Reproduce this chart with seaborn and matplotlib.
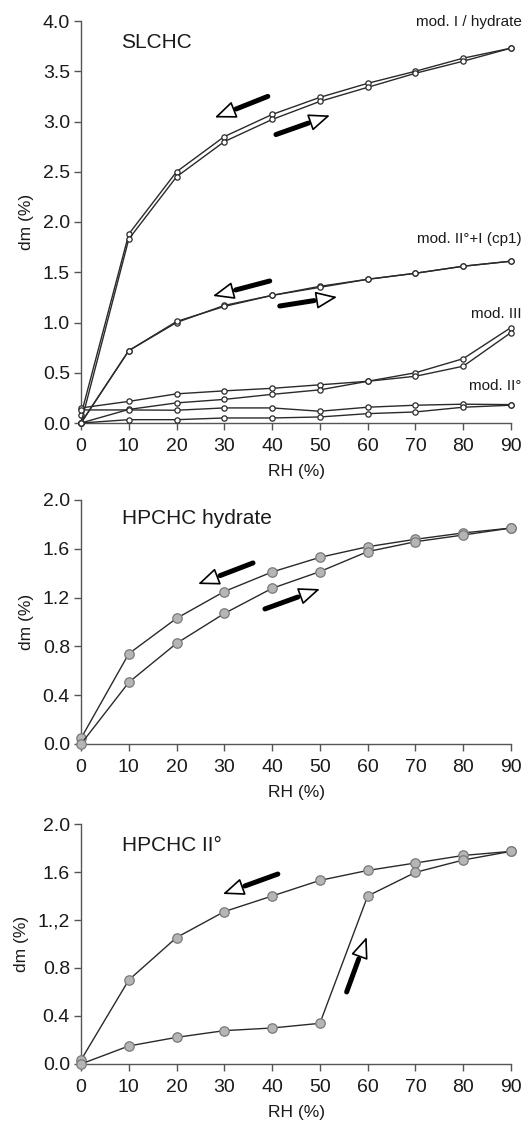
import matplotlib
matplotlib.use("Agg")
import matplotlib.pyplot as plt
import seaborn as sns
import numpy as np

sns.set_theme(style="ticks")
plt.rcParams['font.family'] = ['Liberation Sans', 'DejaVu Sans']

# ---------------- data ----------------
rh = [0, 10, 20, 30, 40, 50, 60, 70, 80, 90]

# SLCHC panel
modI_des = [0.08, 1.88, 2.50, 2.85, 3.07, 3.24, 3.38, 3.50, 3.63, 3.73]
modI_sor = [0.00, 1.83, 2.45, 2.80, 3.02, 3.20, 3.34, 3.48, 3.60, 3.73]
modII1_des = [0.00, 0.72, 1.00, 1.17, 1.27, 1.36, 1.43, 1.49, 1.56, 1.61]
modII1_sor = [0.00, 0.72, 1.01, 1.16, 1.27, 1.35, 1.43, 1.49, 1.56, 1.61]
modIII_des = [0.15, 0.215, 0.29, 0.32, 0.345, 0.38, 0.415, 0.50, 0.64, 0.95]
modIII_sor = [0.00, 0.135, 0.20, 0.235, 0.285, 0.33, 0.415, 0.465, 0.565, 0.90]
modII_des = [0.13, 0.13, 0.127, 0.15, 0.15, 0.117, 0.157, 0.177, 0.187, 0.183]
modII_sor = [0.00, 0.033, 0.033, 0.05, 0.05, 0.06, 0.093, 0.11, 0.157, 0.177]

# HPCHC hydrate panel
hyd_des = [0.046, 0.74, 1.03, 1.25, 1.41, 1.53, 1.617, 1.678, 1.73, 1.77]
hyd_sor = [0.00, 0.505, 0.825, 1.07, 1.276, 1.413, 1.577, 1.658, 1.713, 1.77]

# HPCHC II° panel
ii_des = [0.033, 0.70, 1.054, 1.27, 1.40, 1.53, 1.613, 1.675, 1.738, 1.772]
ii_sor = [0.00, 0.15, 0.222, 0.278, 0.30, 0.339, 1.40, 1.597, 1.70, 1.772]

top_yticks = [0.0, 0.5, 1.0, 1.5, 2.0, 2.5, 3.0, 3.5, 4.0]
top_yticklabels = ['0.0', '0.5', '1.0', '1.5', '2.0', '2.5', '3.0', '3.5', '4.0']
low_yticks = [0.0, 0.4, 0.8, 1.2, 1.6, 2.0]
mid_yticklabels = ['0.0', '0.4', '0.8', '1.2', '1.6', '2.0']
bot_yticklabels = ['0.0', '0.4', '0.8', '1.,2', '1.6', '2.0']

panel_titles = ['SLCHC', 'HPCHC hydrate', 'HPCHC II°']
curve_labels = ['mod. I / hydrate', 'mod. II°+I (cp1)', 'mod. III', 'mod. II°']
curve_label_y = [3.99, 1.83, 1.085, 0.37]

# arrows: (x_start, y_start, x_tip, y_tip)
top_arrows = [(39.1, 3.25, 28.0, 3.04), (40.8, 2.87, 52.1, 3.06),
              (39.5, 1.413, 27.6, 1.264), (41.6, 1.164, 53.6, 1.254)]
mid_arrows = [(36.0, 1.484, 24.5, 1.311), (38.5, 1.107, 50.0, 1.27)]
bot_arrows = [(41.2, 1.583, 29.7, 1.417), (55.6, 0.60, 59.8, 1.058)]

# ---------------- figure ----------------
W, H = 529, 1122
fig = plt.figure(figsize=(W / 100, H / 100), dpi=100)

def px_axes(top, bottom, left=81, right=511):
    return fig.add_axes([left / W, 1 - bottom / H, (right - left) / W, (bottom - top) / H])

ax1 = px_axes(21, 423)
ax2 = px_axes(500, 744)
ax3 = px_axes(824, 1064)

line_col = '#2a2a2a'
spine_col = '#555555'
text_col = '#1a1a1a'

def style(ax, yticks, ylabels, ymax):
    ax.set_xlim(0, 90)
    ax.set_ylim(0, ymax)
    ax.set_xticks(rh)
    ax.set_xticklabels([str(v) for v in rh])
    ax.set_yticks(yticks)
    ax.set_yticklabels(ylabels)
    for s in ['top', 'right']:
        ax.spines[s].set_visible(False)
    for s in ['left', 'bottom']:
        ax.spines[s].set_color(spine_col)
        ax.spines[s].set_linewidth(1.0)
    ax.tick_params(axis='both', direction='out', length=5, width=1.0,
                   color=spine_col, labelsize=14, labelcolor=text_col)
    ax.tick_params(axis='x', pad=6)
    ax.tick_params(axis='y', pad=3)
    ax.set_xlabel('RH (%)', fontsize=12.5, color=text_col, labelpad=6)
    ax.set_ylabel('dm (%)', fontsize=12.5, color=text_col, labelpad=6)
    ax.set_facecolor('white')
    ax.grid(False)

def curve(ax, y, open_marker=True):
    if open_marker:
        sns.lineplot(x=rh, y=y, ax=ax, color=line_col, lw=1.0, marker='o',
                     markersize=3.8, markerfacecolor='white', markeredgecolor=line_col,
                     markeredgewidth=0.9, clip_on=False, sort=False, zorder=3)
    else:
        sns.lineplot(x=rh, y=y, ax=ax, color=line_col, lw=1.0, marker='o',
                     markersize=6.8, markerfacecolor='#b5b5b5', markeredgecolor='#7a7a7a',
                     markeredgewidth=0.9, clip_on=False, sort=False, zorder=3)

def arrow(ax, a):
    x0, y0, x1, y1 = a
    fx = x0 + (x1 - x0) * 0.6
    fy = y0 + (y1 - y0) * 0.6
    ax.annotate('', xy=(fx, fy), xytext=(x0, y0),
                arrowprops=dict(arrowstyle='-', lw=3.6, color='black', shrinkA=0, shrinkB=0))
    ax.annotate('', xy=(x1, y1), xytext=(fx - (x1 - x0) * 0.05, fy - (y1 - y0) * 0.05),
                arrowprops=dict(arrowstyle='-|>,head_length=1.1,head_width=0.45', lw=1.2,
                                fc='white', ec='black', shrinkA=0, shrinkB=0))

# top panel
for ser in [modI_des, modI_sor, modII1_des, modII1_sor, modIII_des, modIII_sor, modII_des, modII_sor]:
    curve(ax1, ser, True)
style(ax1, top_yticks, top_yticklabels, 4.0)
ax1.text(8.4, 3.79, panel_titles[0], fontsize=15, va='center', ha='left', color=text_col)
for lab, yy in zip(curve_labels, curve_label_y):
    ax1.text(92.2, yy, lab, fontsize=11, va='center', ha='right', color=text_col, clip_on=False)
for a in top_arrows:
    arrow(ax1, a)

# middle panel
curve(ax2, hyd_des, False)
curve(ax2, hyd_sor, False)
style(ax2, low_yticks, mid_yticklabels, 2.0)
ax2.text(8.6, 1.85, panel_titles[1], fontsize=15, va='center', ha='left', color=text_col)
for a in mid_arrows:
    arrow(ax2, a)

# bottom panel
curve(ax3, ii_des, False)
curve(ax3, ii_sor, False)
style(ax3, low_yticks, bot_yticklabels, 2.0)
ax3.text(8.6, 1.825, panel_titles[2], fontsize=15, va='center', ha='left', color=text_col)
for a in bot_arrows:
    arrow(ax3, a)

fig.savefig('out.png', dpi=100, facecolor='white')
